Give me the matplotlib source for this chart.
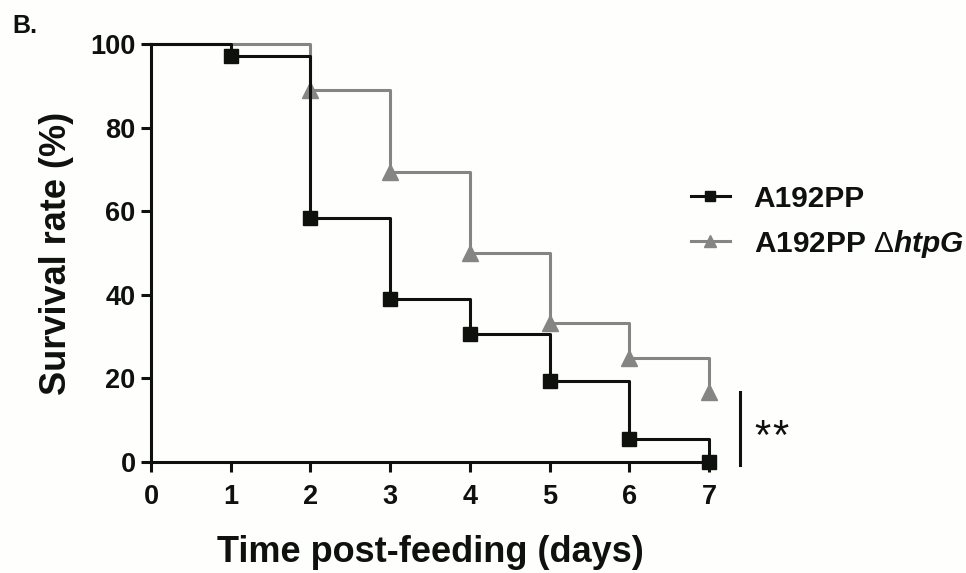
import matplotlib
matplotlib.use("Agg")
import matplotlib.pyplot as plt
from matplotlib.lines import Line2D

days = [0, 1, 2, 3, 4, 5, 6, 7]
wt_survival = [100, 97.2, 58.3, 38.9, 30.6, 19.4, 5.6, 0]
mut_survival = [100, 100, 88.9, 69.4, 50.0, 33.3, 25.0, 16.7]
wt_label = "A192PP"
mut_label = r"A192PP $\Delta\mathit{htpG}$"
xticks = [0, 1, 2, 3, 4, 5, 6, 7]
yticks = [0, 20, 40, 60, 80, 100]

BLACK = "#0f110d"
GRAY = "#858585"
BG = "#fefefd"

plt.rcParams['font.family'] = ['Liberation Sans', 'DejaVu Sans']
plt.rcParams['mathtext.fontset'] = 'custom'
plt.rcParams['mathtext.it'] = 'Liberation Sans:bold:italic'
plt.rcParams['mathtext.rm'] = 'Liberation Sans'

fig = plt.figure(figsize=(9.66, 5.73), dpi=100, facecolor=BG)
ax = fig.add_axes([151/966, 1-462/573, 558/966, 418/573])
ax.set_facecolor(BG)

# gray series (drawn first, behind)
ax.plot(days, mut_survival, drawstyle='steps-post', color=GRAY, lw=2.2,
        clip_on=False, zorder=3)
ax.plot(days[2:], mut_survival[2:], ls='none', marker='^', ms=12,
        color=GRAY, clip_on=False, zorder=3)
# black series
ax.plot(days, wt_survival, drawstyle='steps-post', color=BLACK, lw=2.2,
        clip_on=False, zorder=4)
ax.plot(days[1:], wt_survival[1:], ls='none', marker='s', ms=10.5,
        color=BLACK, clip_on=False, zorder=4)

ax.set_xlim(0, 7)
ax.set_ylim(0, 100)
ax.set_xticks(xticks)
ax.set_yticks(yticks)
for s in ['top', 'right']:
    ax.spines[s].set_visible(False)
for s in ['left', 'bottom']:
    ax.spines[s].set_linewidth(2.2)
    ax.spines[s].set_color(BLACK)
ax.tick_params(axis='both', width=2.2, length=7, color=BLACK,
               labelsize=19.5, labelcolor=BLACK)
ax.tick_params(axis='x', pad=9)
ax.tick_params(axis='y', pad=4)
for lab in ax.get_xticklabels() + ax.get_yticklabels():
    lab.set_fontweight('bold')

ax.set_xlabel("Time post-feeding (days)", fontsize=26, fontweight='bold',
              color=BLACK, labelpad=18)
ax.set_ylabel("Survival rate (%)", fontsize=26, fontweight='bold',
              color=BLACK, labelpad=12)

# significance bar
ax.plot([7.39, 7.39], [-0.7, 16.7], color=BLACK, lw=2.2, clip_on=False)
for xs in (7.575, 7.80):
    ax.text(xs, 3.2, "*", fontsize=30, color=BLACK, va='baseline', ha='left',
            clip_on=False)

# legend
h1 = Line2D([], [], color=BLACK, lw=2.2, marker='s', ms=7.5)
h2 = Line2D([], [], color=GRAY, lw=2.2, marker='^', ms=9)
leg = fig.legend([h1, h2], [wt_label, mut_label], loc='upper left',
                 bbox_to_anchor=(664/966, 1-158/573), frameon=False,
                 prop={'size': 21.5, 'weight': 'bold'}, handlelength=1.3,
                 handletextpad=0.8, labelspacing=0.5)
for t in leg.get_texts():
    t.set_color(BLACK)

fig.text(12/966, 1-33/573, "B.", fontsize=18, fontweight='bold', color=BLACK)

fig.savefig("out.png", dpi=100, facecolor=BG)
